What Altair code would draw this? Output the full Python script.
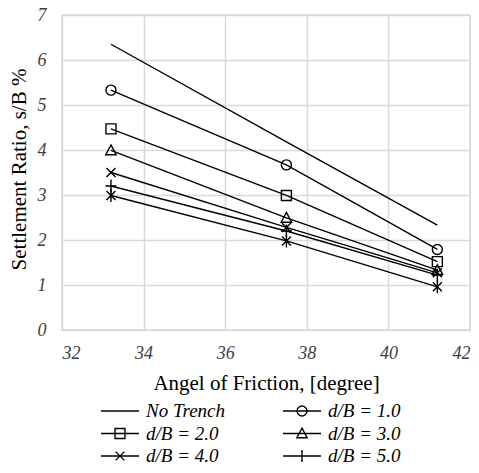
import altair as alt
import pandas as pd

# ---- data ----
angles = [33.2, 37.5, 41.2]
series_names = ["No Trench", "d/B = 1.0", "d/B = 2.0", "d/B = 3.0",
                "d/B = 4.0", "d/B = 5.0", "d/B = 6.0"]
no_trench = [6.35, 4.18, 2.33]
db_1 = [5.33, 3.67, 1.79]
db_2 = [4.47, 2.99, 1.52]
db_3 = [3.99, 2.49, 1.33]
db_4 = [3.50, 2.28, 1.27]
db_5 = [3.20, 2.20, 1.22]
db_6 = [2.99, 1.98, 0.96]
all_values = [no_trench, db_1, db_2, db_3, db_4, db_5, db_6]

x_ticks = [32, 34, 36, 38, 40, 42]
y_ticks = [0, 1, 2, 3, 4, 5, 6, 7]

rows = []
for name, vals in zip(series_names, all_values):
    for a, v in zip(angles, vals):
        rows.append({"series": name, "angle": a, "ratio": v})
df = pd.DataFrame(rows)

# marker shapes (plot) and legend symbols (line + marker)
marker_series = series_names[1:]
marker_paths = [
    "M-1,0A1,1 0 1,1 1,0A1,1 0 1,1 -1,0Z",
    "M-1,-1H1V1H-1Z",
    "M0,-1.1L1.05,0.85H-1.05Z",
    "M-0.9,-0.9L0.9,0.9M-0.9,0.9L0.9,-0.9",
    "M-1.1,0H1.1M0,-1.3V1.3",
    "M-0.9,-0.9L0.9,0.9M-0.9,0.9L0.9,-0.9M0,-1.3V1.3",
]
legend_symbols = {
    "No Trench": "M-1,0H1",
    "d/B = 1.0": "M-1,0H1M-0.26,0A0.26,0.26 0 1,1 0.26,0A0.26,0.26 0 1,1 -0.26,0Z",
    "d/B = 2.0": "M-1,0H1M-0.26,-0.26H0.26V0.26H-0.26Z",
    "d/B = 3.0": "M-1,0H1M0,-0.28L0.27,0.22H-0.27Z",
    "d/B = 4.0": "M-1,0H1M-0.23,-0.23L0.23,0.23M-0.23,0.23L0.23,-0.23",
    "d/B = 5.0": "M-1,0H1M0,-0.32V0.32",
}
# the legend fills column by column
legend_order = ["No Trench", "d/B = 2.0", "d/B = 4.0",
                "d/B = 1.0", "d/B = 3.0", "d/B = 5.0"]
legend_paths = [legend_symbols[s] for s in legend_order]

serif = "'Liberation Serif', 'Times New Roman', Times, serif"
grid_col = "#d9d9d9"

x_enc = alt.X("angle:Q",
              scale=alt.Scale(domain=[32, 42], nice=False, zero=False),
              axis=alt.Axis(values=x_ticks, title="Angel of Friction, [degree]",
                            titleX=204, titleY=53, titleBaseline="middle",
                            labelPadding=14))
y_enc = alt.Y("ratio:Q",
              scale=alt.Scale(domain=[0, 7], nice=False),
              axis=alt.Axis(values=y_ticks, title="Settlement Ratio, s/B %",
                            titleX=-43, titleY=154, titleAngle=-90,
                            titleAlign="center", titleBaseline="middle",
                            labelPadding=16))

lines = alt.Chart(df).mark_line(color="black", strokeWidth=1.4).encode(
    x=x_enc, y=y_enc, detail="series:N")

points = alt.Chart(df[df["series"] != "No Trench"]).mark_point(
    filled=False, color="black", strokeWidth=1.4, size=100, opacity=1
).encode(
    x="angle:Q", y="ratio:Q",
    shape=alt.Shape("series:N",
                    scale=alt.Scale(domain=marker_series, range=marker_paths),
                    legend=None))

legend_layer = alt.Chart(df[df["series"].isin(legend_order)]).mark_point(
    opacity=0, size=1444
).encode(
    x="angle:Q", y="ratio:Q",
    shape=alt.Shape("series:N",
                    scale=alt.Scale(domain=legend_order, range=legend_paths),
                    legend=alt.Legend(
                        title=None, orient="none", legendX=38, legendY=386,
                        columns=2, columnPadding=57, rowPadding=2.5,
                        clipHeight=20,
                        symbolSize=1444, symbolOpacity=1,
                        symbolStrokeColor="black", symbolFillColor="transparent",
                        symbolStrokeWidth=1.4, labelFont=serif,
                        labelFontStyle="italic", labelFontSize=19,
                        labelColor="black", labelOffset=6,
                        labelLimit=200)))

chart = alt.layer(lines, points, legend_layer).resolve_scale(
    shape="independent"
).properties(
    width=408, height=315,
    autosize=alt.AutoSizeParams(type="none"),
    padding={"left": 54, "top": 7, "right": 1, "bottom": 135},
).configure_view(
    stroke=grid_col, strokeWidth=1.5
).configure_axis(
    domain=False, ticks=False, grid=True, gridColor=grid_col, gridWidth=1.5,
    labelFont=serif, labelFontStyle="italic", labelFontSize=18,
    labelColor="#404040", titleFont=serif, titleFontSize=21,
    titleFontWeight="normal", titleColor="black"
)

chart.save("out.html", embed_options={"renderer": "svg", "actions": False})
